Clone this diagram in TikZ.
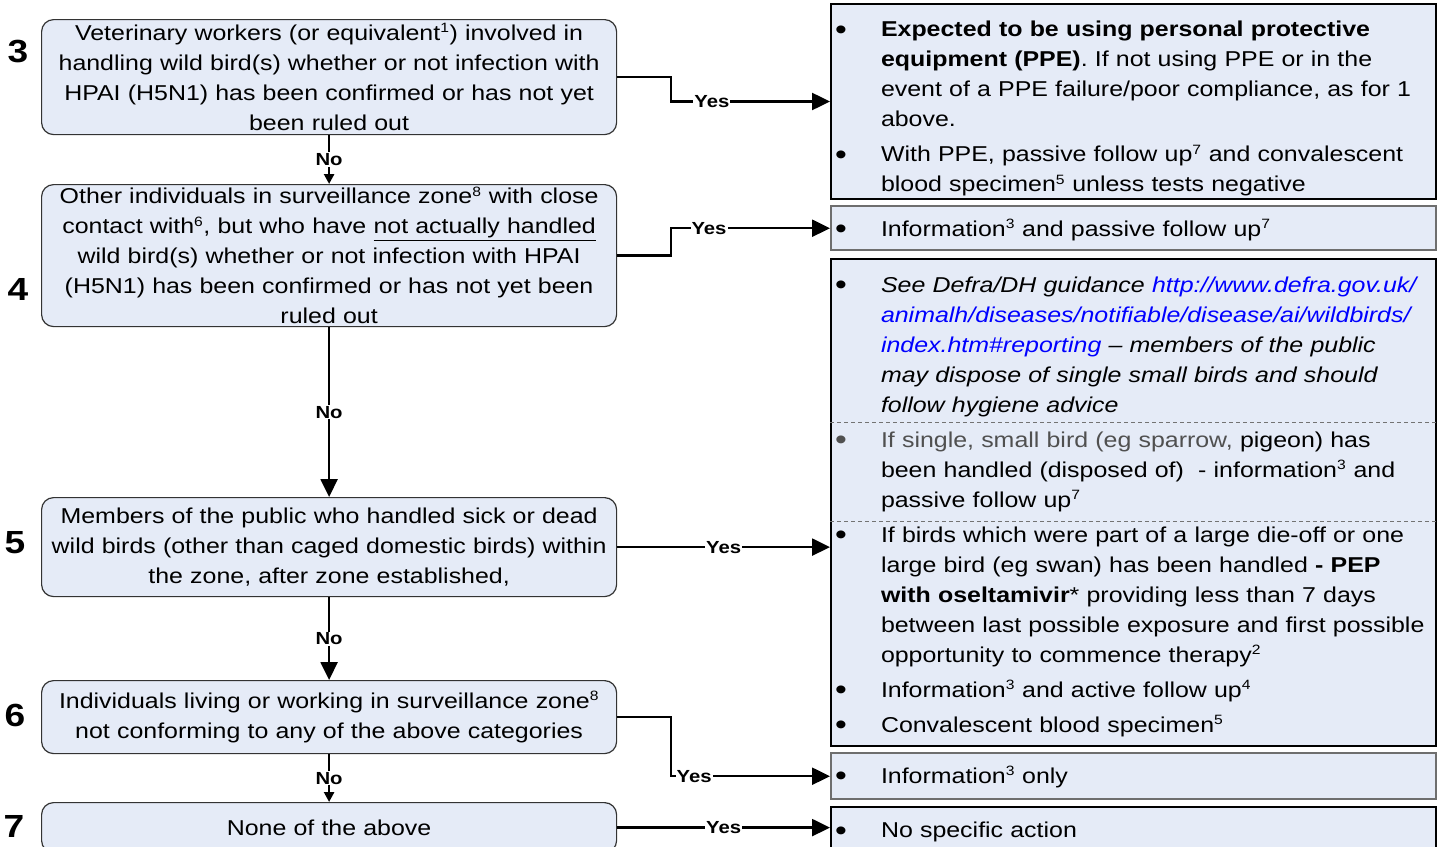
\documentclass[tikz,border=0pt]{standalone}
\usepackage{fontspec}
\setmainfont{Liberation Sans}[FakeStretch=1.16]
\usepackage{xcolor}
\usetikzlibrary{arrows.meta}
\definecolor{boxFill}{RGB}{229,235,247}
\definecolor{linkBlue}{RGB}{0,0,255}
\definecolor{noteGray}{RGB}{80,80,80}
\definecolor{edgeGray}{RGB}{110,110,110}
\newcommand{\bodyfont}{\fontsize{21.5}{30}\selectfont}
\newcommand{\sups}[1]{\textsuperscript{\fontsize{13.5}{14}\selectfont#1}}
\newcommand{\bitem}[1][black]{\par\hangindent=46pt\hangafter=1\noindent\makebox[46pt][l]{\textcolor{#1}{\raisebox{-2.5pt}{\fontsize{29}{30}\selectfont\textbullet}}}}
\newcommand{\gap}{\par\vspace{5pt}}
\newcommand{\lift}[1]{\par\kern#1}

\begin{document}
\begin{tikzpicture}[x=1pt, y=-1pt,
    qbox/.style={draw=black!80, line width=1.2pt, rounded corners=12pt, fill=boxFill, anchor=north west,
        minimum width=575pt, text width=565pt, inner xsep=5pt, inner ysep=0pt, align=center, font=\bodyfont},
    abox/.style={draw=black, line width=2pt, fill=boxFill, anchor=north west,
        minimum width=605pt, text width=597pt, inner xsep=4pt, inner ysep=0pt, font=\bodyfont},
    conn/.style={line width=2.5pt, -{Triangle[length=18pt,width=17pt]}},
    connsmall/.style={line width=2.5pt, -{Triangle[length=10pt,width=10pt]}},
    lbl/.style={fill=white, inner sep=1pt, font=\fontsize{17.5}{20}\selectfont\bfseries},
    num/.style={font=\fontsize{32}{36}\selectfont\bfseries}]
\useasboundingbox (0,0) rectangle (1443,846);

% question boxes
\node[qbox, minimum height=115pt] (q3) at (41,19) {Veterinary workers (or equivalent\sups{1}) involved in\\ handling wild bird(s) whether or not infection with\\ HPAI (H5N1) has been confirmed or has not yet\\ been ruled out};
\node[qbox, minimum height=142pt] (q4) at (41,184) {Other individuals in surveillance zone\sups{8} with close\\ contact with\sups{6}, but who have \underline{not actually handled}\\ wild bird(s) whether or not infection with HPAI\\ (H5N1) has been confirmed or has not yet been\\ ruled out};
\node[qbox, minimum height=99pt] (q5) at (41,497) {Members of the public who handled sick or dead\\ wild birds (other than caged domestic birds) within\\ the zone, after zone established,};
\node[qbox, minimum height=73pt] (q6) at (41,680) {Individuals living or working in surveillance zone\sups{8}\\ not conforming to any of the above categories};
\node[qbox, minimum height=50pt] (q7) at (41,802) {None of the above};

\node[num] (n3) at (18,52) {3};
\node[num] (n4) at (18,289) {4};
\node[num] (n5) at (15,543) {5};
\node[num] (n6) at (15,715) {6};
\node[num] (n7) at (14,826) {7};

% action boxes
\node[abox, minimum height=195pt] (a3) at (830,3) {\bitem\textbf{Expected to be using personal protective\newline equipment (PPE)}. If not using PPE or in the\newline event of a PPE failure/poor compliance, as for 1\newline above.
  \gap\bitem With PPE, passive follow up\sups{7} and convalescent\newline blood specimen\sups{5} unless tests negative\par};
\node[abox, draw=edgeGray, minimum height=43pt] (a4) at (830,205) {\bitem Information\sups{3} and passive follow up\sups{7}\lift{10pt}};
\node[abox, minimum height=487pt] (a5) at (830,258) {\bitem\textit{See Defra/DH guidance \textcolor{linkBlue}{http://www.defra.gov.uk/\newline animalh/diseases/notifiable/disease/ai/wildbirds/\newline index.htm\#reporting} -- members of the public\newline may dispose of single small birds and should\newline follow hygiene advice}
  \gap\bitem[noteGray]\textcolor{noteGray}{If single, small bird (eg sparrow,} pigeon) has\newline been handled (disposed of)\ \ - information\sups{3} and\newline passive follow up\sups{7}
  \gap\bitem If birds which were part of a large die-off or one\newline large bird (eg swan) has been handled \textbf{- PEP\newline with oseltamivir}* providing less than 7 days\newline between last possible exposure and first possible\newline opportunity to commence therapy\sups{2}
  \gap\bitem Information\sups{3} and active follow up\sups{4}
  \gap\bitem Convalescent blood specimen\sups{5}\lift{6pt}};
\node[abox, draw=edgeGray, minimum height=45pt] (a6) at (830,752) {\bitem Information\sups{3} only\lift{12pt}};
\node[abox, minimum height=46pt] (a7) at (830,806) {\bitem No specific action\lift{10pt}};

\draw[black!55, line width=1pt, dash pattern=on 4pt off 3pt] ([yshift=-164pt]a5.north west) -- ([yshift=-164pt]a5.north east);
\draw[black!55, line width=1pt, dash pattern=on 4pt off 3pt] ([yshift=-263pt]a5.north west) -- ([yshift=-263pt]a5.north east);

% no
\draw[connsmall] (q3) -- node[lbl] {No} (q4);
\draw[conn] (q4) -- node[lbl] {No} (q5);
\draw[conn] (q5) -- node[lbl] {No} (q6);
\draw[connsmall] (q6) -- node[lbl] {No} (q7);

% yes
\draw[conn] (q3.east) -- ++(54,0) |- node[lbl, pos=0.628] {Yes} (a3.west);
\draw[conn] (q4.east) -- ++(54,0) |- node[lbl, pos=0.619] {Yes} (a4.west);
\draw[conn] (q5.east) -- node[lbl] {Yes} (q5.east -| a5.west);
\draw[conn] (q6.east) -- ++(54,0) |- node[lbl, pos=0.572] {Yes} (a6.west);
\draw[conn] (q7.east) -- node[lbl] {Yes} (q7.east -| a7.west);
\end{tikzpicture}
\end{document}
